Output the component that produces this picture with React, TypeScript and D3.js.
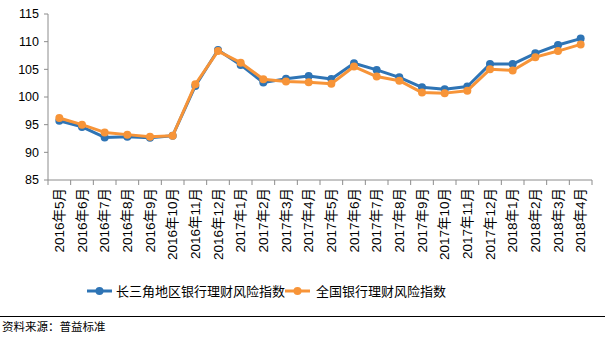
import React from "react";
import * as d3 from "d3";

const categories = [
  "2016年5月", "2016年6月", "2016年7月", "2016年8月", "2016年9月", "2016年10月",
  "2016年11月", "2016年12月", "2017年1月", "2017年2月", "2017年3月", "2017年4月",
  "2017年5月", "2017年6月", "2017年7月", "2017年8月", "2017年9月", "2017年10月",
  "2017年11月", "2017年12月", "2018年1月", "2018年2月", "2018年3月", "2018年4月",
];
const yrdValues = [
  95.7, 94.6, 92.7, 92.8, 92.65, 93.0, 102.0, 108.5, 105.8, 102.6, 103.3, 103.8,
  103.25, 106.1, 104.9, 103.55, 101.75, 101.4, 101.9, 105.95, 105.95, 107.9, 109.4, 110.55,
];
const nationalValues = [
  96.2, 95.0, 93.6, 93.2, 92.8, 93.0, 102.3, 108.3, 106.2, 103.2, 102.8, 102.65,
  102.4, 105.5, 103.7, 102.95, 100.8, 100.7, 101.15, 105.0, 104.8, 107.2, 108.3, 109.5,
];
const yTicks = [85, 90, 95, 100, 105, 110, 115];
const seriesNames = ["长三角地区银行理财风险指数", "全国银行理财风险指数"];
const colors = ["#2E74B5", "#F79438"];

export default function App() {
  const W = 605, H = 340;
  const left = 48, right = 592, top = 14, bottom = 180;
  const x = d3.scaleBand<string>().domain(categories).range([left, right]);
  const y = d3.scaleLinear().domain([85, 115]).range([bottom, top]);
  const line = d3.line<number>()
    .x((_, i) => x(categories[i])! + x.bandwidth() / 2)
    .y((d) => y(d));
  const series = [yrdValues, nationalValues];
  const numFont = "'Liberation Sans', Arial, sans-serif";
  const cjkFont = "'Liberation Sans', 'Noto Sans CJK SC', sans-serif";

  return (
    <svg width={W} height={H} style={{ position: "absolute", left: 0, top: 0, background: "#fff" }}>
      {/* y axis */}
      <line x1={left} x2={left} y1={top} y2={bottom} stroke="#8c8c8c" />
      {yTicks.map((t) => (
        <g key={t}>
          <line x1={left - 4} x2={left} y1={y(t)} y2={y(t)} stroke="#8c8c8c" />
          <text x={left - 9} y={y(t)} dy="0.35em" textAnchor="end" fontSize={12.5} fontFamily={numFont} fill="#000">{t}</text>
        </g>
      ))}
      {/* x axis */}
      <line x1={left} x2={right} y1={bottom} y2={bottom} stroke="#8c8c8c" />
      {categories.concat(["__end"]).map((c, i) => {
        const xx = left + i * x.step();
        return <line key={"t" + i} x1={xx} x2={xx} y1={bottom} y2={bottom + 5} stroke="#8c8c8c" />;
      })}
      {categories.map((c) => {
        const cx = x(c)! + x.bandwidth() / 2;
        return (
          <text key={c} transform={`translate(${cx + 4.7},${bottom + 8}) rotate(-90)`} textAnchor="end"
            fontSize={13.5} fontFamily={cjkFont} fill="#000">{c}</text>
        );
      })}
      {/* series */}
      {series.map((vals, si) => (
        <g key={si}>
          <path d={line(vals)!} fill="none" stroke={colors[si]} strokeWidth={3} strokeLinejoin="round" />
          {vals.map((v, i) => (
            <circle key={i} cx={x(categories[i])! + x.bandwidth() / 2} cy={y(v)} r={4} fill={colors[si]} />
          ))}
        </g>
      ))}
      {/* legend */}
      {(() => {
        const items = [
          { x0: 87, tx: 116 },
          { x0: 285, tx: 316 },
        ];
        return items.map((it, si) => (
          <g key={si}>
            <line x1={it.x0} x2={it.x0 + 25} y1={291} y2={291} stroke={colors[si]} strokeWidth={3} />
            <circle cx={it.x0 + 12.5} cy={291} r={4} fill={colors[si]} />
            <text x={it.tx} y={291} dy="0.35em" fontSize={13} fontFamily="'Noto Sans CJK SC', sans-serif" fill="#000">{seriesNames[si]}</text>
          </g>
        ));
      })()}
      <line x1={0} x2={W} y1={316.5} y2={316.5} stroke="#000" />
      <text x={2} y={327} dy="0.35em" fontSize={11.5} fontFamily="'Noto Sans CJK SC', sans-serif" fill="#000">资料来源：普益标准</text>
    </svg>
  );
}
